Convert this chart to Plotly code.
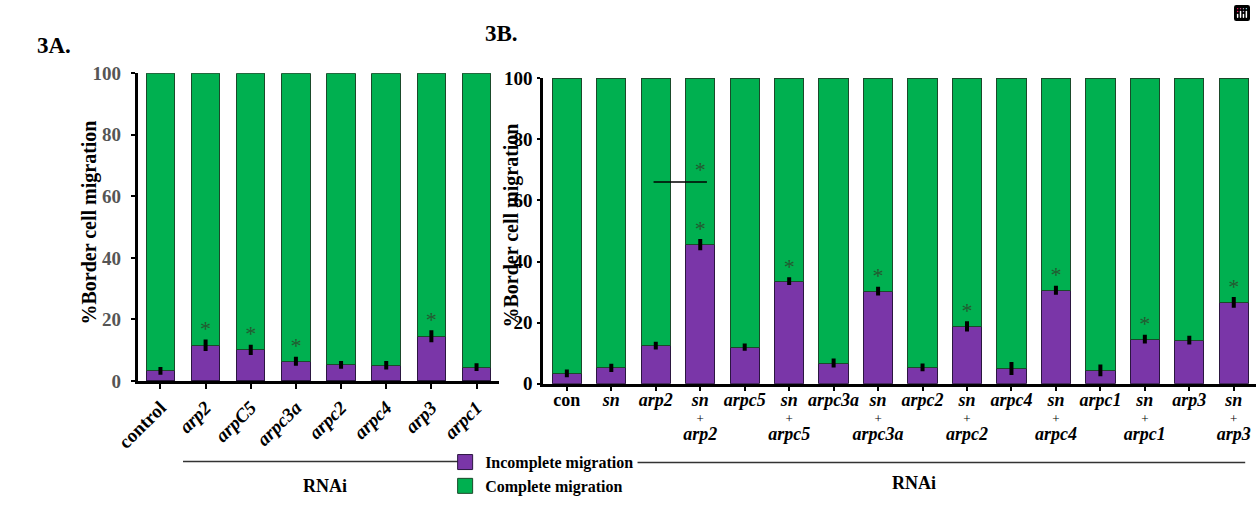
import plotly.graph_objects as go

W, H = 1256, 506


def px(v):
    return v / W


def py(v):
    return 1 - v / H


# ---------------- data ----------------
a_cats = ["control", "arp2", "arpC5", "arpc3a", "arpc2", "arpc4", "arp3", "arpc1"]
a_incomplete = [3.3, 11.6, 10.1, 6.4, 5.2, 5.1, 14.5, 4.5]
a_err = [0.6, 1.2, 1.0, 0.8, 0.6, 0.7, 1.3, 0.6]
a_sig = [False, True, True, True, False, False, True, False]

b_cats = ["con", "sn", "arp2", "sn+arp2", "arpc5", "sn+arpc5", "arpc3a", "sn+arpc3a",
          "arpc2", "sn+arpc2", "arpc4", "sn+arpc4", "arpc1", "sn+arpc1", "arp3", "sn+arp3"]
b_incomplete = [3.4, 5.2, 12.5, 45.5, 12.0, 33.6, 6.8, 30.3,
                5.4, 18.8, 5.0, 30.6, 4.4, 14.6, 14.3, 26.6]
b_err = [0.6, 0.7, 0.6, 1.2, 0.5, 0.6, 0.8, 0.8,
         0.6, 1.0, 1.5, 0.8, 1.3, 0.8, 0.8, 1.1]
b_sig = [False, False, False, True, False, True, False, True,
         False, True, False, True, False, True, False, True]
b_bracket = ("arp2", "sn+arp2", 66)   # comparison bracket (from, to, level %)

y_ticks = [0, 20, 40, 60, 80, 100]

a_complete = [100 - v for v in a_incomplete]
b_complete = [100 - v for v in b_incomplete]

PURPLE = "#7A36A8"
GREEN = "#00B050"
PURPLE_EDGE = "#2b1640"
GREEN_EDGE = "#1a4a2a"
STAR = "#245a30"
FONT = "Liberation Serif"


def a_label(c):
    return c if c == "control" else f"<i>{c}</i>"


def b_label(c):
    big = "<span style='font-size:18px'>{}</span>"
    if c == "con":
        return big.format(c)
    if c.startswith("sn+"):
        return (big.format("<i>sn</i>") + "<br><span style='font-size:13px;font-weight:normal'>+</span><br>"
                + big.format("<i>" + c[3:] + "</i>"))
    return big.format(f"<i>{c}</i>")


a_x = list(range(len(a_cats)))
b_x = list(range(len(b_cats)))

fig = go.Figure()

# stacked bars
for xs, inc, com, w, xa, ya in [(a_x, a_incomplete, a_complete, 0.63, "x", "y"),
                                (b_x, b_incomplete, b_complete, 0.66, "x2", "y2")]:
    fig.add_trace(go.Bar(x=xs, y=inc, name="Incomplete migration", marker_color=PURPLE,
                         marker_line=dict(color=PURPLE_EDGE, width=1), width=w,
                         showlegend=False, xaxis=xa, yaxis=ya))
    fig.add_trace(go.Bar(x=xs, y=com, name="Complete migration", marker_color=GREEN,
                         marker_line=dict(color=GREEN_EDGE, width=1), width=w,
                         showlegend=False, xaxis=xa, yaxis=ya))

# legend entries (square swatches)
for name, col, edge, grp in [("Incomplete migration", PURPLE, PURPLE_EDGE, "inc"),
                             ("Complete migration", GREEN, GREEN_EDGE, "com")]:
    fig.add_trace(go.Scatter(x=[None], y=[None], mode="markers", name=name, legendgroup=grp,
                             marker=dict(symbol="square", size=15, color=col,
                                         line=dict(color=edge, width=1)),
                             xaxis="x2", yaxis="y2"))

# error bars
for xs, ys, es, xa, ya in [(a_x, a_incomplete, a_err, "x", "y"), (b_x, b_incomplete, b_err, "x2", "y2")]:
    fig.add_trace(go.Scatter(x=xs, y=ys, mode="markers", marker=dict(size=1, color="black"),
                             error_y=dict(type="data", array=es, color="black", thickness=4, width=2),
                             showlegend=False, hoverinfo="skip", xaxis=xa, yaxis=ya))

# significance asterisks
for xs, ys, es, sig, xa, ya in [(a_x, a_incomplete, a_err, a_sig, "x", "y"),
                                (b_x, b_incomplete, b_err, b_sig, "x2", "y2")]:
    sx = [x for x, s in zip(xs, sig) if s]
    sy = [y + e for y, e, s in zip(ys, es, sig) if s]
    fig.add_trace(go.Scatter(x=sx, y=sy, mode="text", text=["*"] * len(sx),
                             textposition="top center",
                             textfont=dict(family=FONT, size=22, color=STAR),
                             showlegend=False, hoverinfo="skip", xaxis=xa, yaxis=ya))

# bracket between arp2 and sn+arp2
i0, i1 = b_cats.index(b_bracket[0]), b_cats.index(b_bracket[1])
fig.add_shape(type="line", xref="x2", yref="y2", x0=i0 - 0.05, x1=i1 + 0.15,
              y0=b_bracket[2], y1=b_bracket[2], line=dict(color="black", width=1.5))
fig.add_trace(go.Scatter(x=[i1], y=[b_bracket[2]], mode="text", text=["*"], textposition="top center",
                         textfont=dict(family=FONT, size=22, color=STAR),
                         showlegend=False, hoverinfo="skip", xaxis="x2", yaxis="y2"))

axis_common = dict(showline=True, linecolor="black", linewidth=3, ticks="outside",
                   tickcolor="black", tickwidth=2, showgrid=False, zeroline=False, fixedrange=True)

fig.update_layout(
    width=W, height=H, autosize=False,
    margin=dict(l=0, r=0, t=0, b=0),
    paper_bgcolor="white", plot_bgcolor="white",
    barmode="stack",
    font=dict(family=FONT, color="black"),
    modebar=dict(bgcolor="rgba(0,0,0,0)", color="rgba(0,0,0,0)", activecolor="rgba(0,0,0,0)"),
    xaxis=dict(domain=[px(117), px(485)], range=[-0.5, 7.5], anchor="y",
               tickvals=a_x, ticktext=[a_label(c) for c in a_cats], tickangle=-45, ticklen=5,
               tickfont=dict(family=FONT, size=19, weight="bold", color="black"), **axis_common),
    yaxis=dict(domain=[py(387), py(66)], range=[0, 100], anchor="x",
               tickvals=y_ticks, ticklen=4, ticklabelstandoff=6,
               tickfont=dict(family=FONT, size=19, weight="bold", color="#555555"), **axis_common),
    xaxis2=dict(domain=[px(530), 1.0], range=[-0.53, 15.5], anchor="y2",
                tickvals=b_x, ticktext=[b_label(c) for c in b_cats], tickangle=0, ticklen=4,
                tickfont=dict(family=FONT, size=13, weight="bold", color="black"), **axis_common),
    yaxis2=dict(domain=[py(390), py(71)], range=[0, 100], anchor="x2",
                tickvals=y_ticks, ticklen=3, ticklabelstandoff=1,
                tickfont=dict(family=FONT, size=19, weight="bold", color="black"), **axis_common),
    legend=dict(x=px(430), y=py(454), xanchor="left", yanchor="top",
                bgcolor="rgba(0,0,0,0)", traceorder="normal", tracegroupgap=2,
                itemsizing="trace",
                font=dict(family=FONT, size=16, weight="bold", color="black")),
    showlegend=True,
)

ann = dict(showarrow=False, xref="paper", yref="paper", xanchor="center", yanchor="middle")
fig.add_annotation(text="<b>%Border cell migration</b>", x=px(68), y=py(222), textangle=-90,
                   font=dict(family=FONT, size=20, color="black"), **ann)
fig.add_annotation(text="<b>%Border cell migration</b>", x=px(498), y=py(225), textangle=-90,
                   font=dict(family=FONT, size=20, color="black"), **ann)
fig.add_annotation(text="<b>3A.</b>", x=px(32), y=py(37),
                   font=dict(family=FONT, size=23, color="black"), **ann)
fig.add_annotation(text="<b>3B.</b>", x=px(487), y=py(25),
                   font=dict(family=FONT, size=23, color="black"), **ann)
fig.add_annotation(text="<b>RNAi</b>", x=px(308), y=py(497),
                   font=dict(family=FONT, size=18, color="black"), **ann)
fig.add_annotation(text="<b>RNAi</b>", x=px(908), y=py(493),
                   font=dict(family=FONT, size=18, color="black"), **ann)

fig.add_shape(type="line", xref="paper", yref="paper", x0=px(163), x1=px(445),
              y0=py(471), y1=py(471), line=dict(color="#333333", width=1.5))
fig.add_shape(type="line", xref="paper", yref="paper", x0=px(626), x1=px(1245),
              y0=py(472), y1=py(472), line=dict(color="#333333", width=1.5))

fig.write_html("out.html", post_script="document.body.style.margin='0';")
